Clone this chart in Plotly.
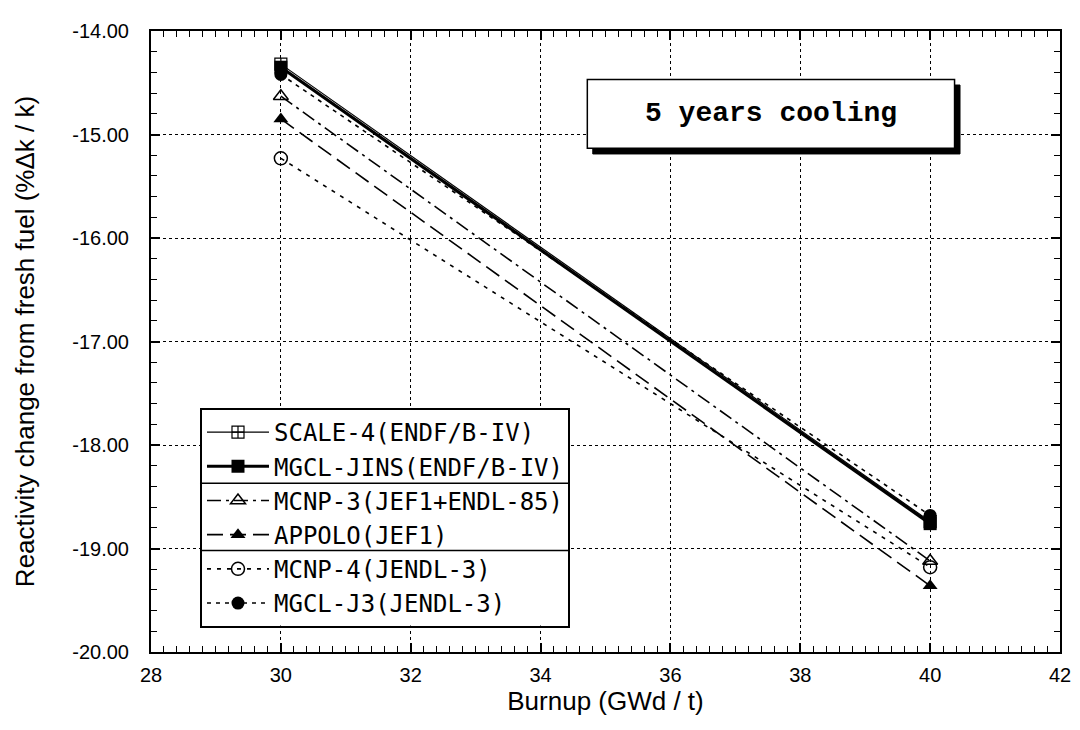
import plotly.graph_objects as go

# ---- data ----
burnup = [30, 40]
scale4 = [-14.32, -18.74]
mgcl_jins = [-14.35, -18.76]
mcnp3 = [-14.63, -19.12]
appolo = [-14.85, -19.36]
mcnp4 = [-15.23, -19.18]
mgcl_j3 = [-14.42, -18.68]

series_names = [
    "SCALE-4(ENDF/B-IV)",
    "MGCL-JINS(ENDF/B-IV)",
    "MCNP-3(JEF1+ENDL-85)",
    "APPOLO(JEF1)",
    "MCNP-4(JENDL-3)",
    "MGCL-J3(JENDL-3)",
]
series_values = [scale4, mgcl_jins, mcnp3, appolo, mcnp4, mgcl_j3]
x_ticks = [28, 30, 32, 34, 36, 38, 40, 42]
y_ticks = [-20, -19, -18, -17, -16, -15, -14]

styles = [
    dict(line=dict(color="black", width=1.2, dash="solid"),
         marker=dict(symbol="square-cross-open", size=12, color="black", line=dict(width=1.2, color="black"))),
    dict(line=dict(color="black", width=3.2, dash="solid"),
         marker=dict(symbol="square", size=13, color="black")),
    dict(line=dict(color="black", width=1.6, dash="14px,5px,3px,5px"),
         marker=dict(symbol="triangle-up-open", size=13, color="black", line=dict(width=1.5, color="black"))),
    dict(line=dict(color="black", width=1.6, dash="16px,7px"),
         marker=dict(symbol="triangle-up", size=13, color="black")),
    dict(line=dict(color="black", width=1.6, dash="4px,6px"),
         marker=dict(symbol="circle-open", size=13, color="black", line=dict(width=1.5, color="black"))),
    dict(line=dict(color="black", width=1.6, dash="4px,5px"),
         marker=dict(symbol="circle", size=13, color="black")),
]

fig = go.Figure()
for name, vals, st in zip(series_names, series_values, styles):
    fig.add_trace(go.Scatter(x=burnup, y=vals, name=name, mode="lines+markers",
                             line=st["line"], marker=st["marker"]))

sans = "Liberation Sans, Arial, sans-serif"
axis_common = dict(
    showline=True, linecolor="black", linewidth=2, mirror="allticks",
    ticks="inside", ticklen=9, tickwidth=1.5, tickcolor="black",
    showgrid=True, gridcolor="black", griddash="dot", gridwidth=1,
    zeroline=False,
    minor=dict(ticks="inside", ticklen=6, tickwidth=1.2, tickcolor="black", dtick=0.2, showgrid=False),
    tickfont=dict(family=sans, size=20, color="black"),
)

fig.update_xaxes(range=[28, 42], tickvals=x_ticks, ticktext=[str(v) for v in x_ticks],
                 ticklabelstandoff=4,
                 title=dict(text="Burnup (GWd / t)", font=dict(family=sans, size=26, color="black"), standoff=4),
                 **axis_common)
fig.update_yaxes(range=[-20, -14], tickvals=y_ticks, ticktext=["%.2f" % v for v in y_ticks],
                 ticklabelstandoff=16,
                 title=dict(text="Reactivity change from fresh fuel (%Δk / k)", font=dict(family=sans, size=26, color="black"), standoff=30),
                 **axis_common)

# annotation box with drop shadow
bx0, bx1, by0, by1 = 0.48, 0.884, 0.811, 0.922
sx, sy = 0.006, 0.009
fig.add_shape(type="rect", xref="paper", yref="paper", x0=bx0 + sx, x1=bx1 + sx, y0=by0 - sy, y1=by1 - sy,
              fillcolor="black", line=dict(color="black", width=1), layer="above")
fig.add_shape(type="rect", xref="paper", yref="paper", x0=bx0, x1=bx1, y0=by0, y1=by1,
              fillcolor="white", line=dict(color="black", width=1.5), layer="above")
fig.add_annotation(xref="paper", yref="paper", x=(bx0 + bx1) / 2, y=(by0 + by1) / 2,
                   xanchor="center", yanchor="middle",
                   text="<b>5 years cooling</b>", showarrow=False,
                   font=dict(family="Liberation Mono, Courier New, monospace", size=28, color="black"))

# legend background and group separators (legend itself drawn transparent on top)
leg_x0, leg_x1, leg_y0, leg_y1 = 0.0539, 0.4598, 0.0428, 0.393
fig.add_shape(type="rect", xref="paper", yref="paper", x0=leg_x0, x1=leg_x1, y0=leg_y0, y1=leg_y1,
              fillcolor="white", line=dict(width=0), layer="above")
for ysep in (0.2719, 0.1636):
    fig.add_shape(type="line", xref="paper", yref="paper", x0=leg_x0, x1=leg_x1, y0=ysep, y1=ysep,
                  line=dict(color="black", width=1.5), layer="above")

fig.update_layout(
    width=1080, height=730,
    margin=dict(l=143, r=28, t=13, b=86),
    plot_bgcolor="white", paper_bgcolor="white",
    showlegend=True,
    legend=dict(x=leg_x0, y=leg_y1, xanchor="left", yanchor="top",
                bgcolor="rgba(0,0,0,0)", bordercolor="black", borderwidth=2,
                font=dict(family="DejaVu Sans Mono, monospace", size=24, color="black"),
                itemwidth=62, tracegroupgap=0, traceorder="normal"),
)

fig.write_html("out.html")
